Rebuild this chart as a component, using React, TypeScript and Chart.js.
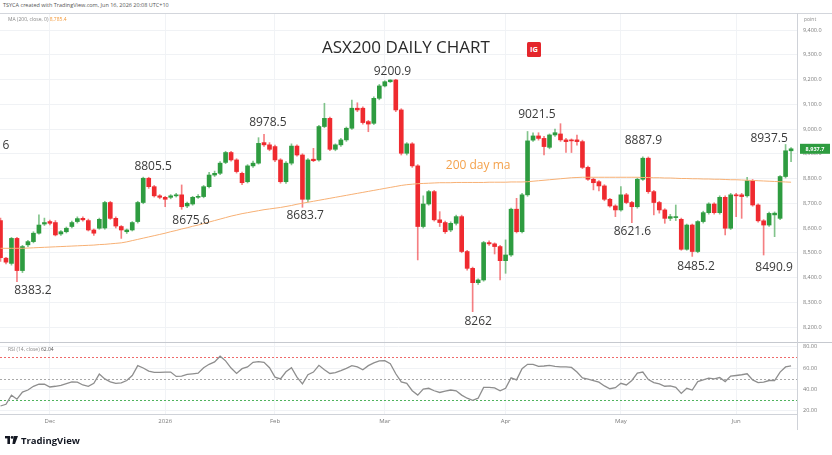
import React, { useEffect, useRef } from "react";
import { Chart, registerables } from "chart.js";
Chart.register(...registerables);

// ---------- data ----------
const opens = [
  8630, 8478, 8457, 8558, 8428, 8532, 8545, 8579, 8616, 8626,
  8622, 8576, 8585, 8606, 8626, 8639, 8630, 8592, 8599, 8600,
  8703, 8639, 8606, 8585, 8592, 8626, 8703, 8801, 8767, 8730,
  8724, 8724, 8730, 8734, 8689, 8697, 8724, 8727, 8767, 8814,
  8821, 8865, 8905, 8875, 8821, 8787, 8851, 8862, 8945, 8936,
  8929, 8875, 8787, 8862, 8931, 8895, 8716, 8878, 8875, 9010,
  9043, 8918, 8936, 8956, 9003, 9084, 9084, 9030, 9023, 9124,
  9174, 9191, 9198, 9077, 8902, 8940, 8851, 8606, 8697, 8747,
  8633, 8622, 8592, 8619, 8646, 8505, 8437, 8379, 8390, 8541,
  8536, 8525, 8468, 8491, 8676, 8585, 8734, 8955, 8972, 8962,
  8926, 8976, 8980, 8956, 8956, 8956, 8949, 8845, 8797, 8787,
  8770, 8716, 8689, 8673, 8734, 8703, 8686, 8797, 8882, 8747,
  8703, 8673, 8639, 8642, 8635, 8514, 8612, 8505, 8626, 8662,
  8697, 8662, 8724, 8599, 8734, 8734, 8730, 8791, 8693, 8629,
  8612, 8653, 8639, 8808, 8912,
];
const highs = [
  8640, 8482, 8562, 8562, 8530, 8550, 8585, 8653, 8640, 8632,
  8630, 8590, 8604, 8628, 8645, 8645, 8636, 8596, 8640, 8708,
  8708, 8645, 8610, 8596, 8626, 8708, 8805.5, 8805, 8772, 8735,
  8728, 8735, 8740, 8774, 8705, 8728, 8735, 8772, 8825, 8830,
  8868, 8910, 8910, 8880, 8826, 8856, 8870, 8965, 8978.5, 8945,
  8935, 8880, 8868, 8940, 8936, 8900, 8880, 8922, 9015, 9104,
  9048, 8940, 8962, 9008, 9117, 9106, 9090, 9035, 9130, 9180,
  9195, 9199, 9200.9, 9082, 8945, 8945, 8856, 8730, 8752, 8752,
  8666, 8628, 8625, 8652, 8652, 8510, 8442, 8395, 8546, 8548,
  8540, 8530, 8552, 8680, 8720, 8740, 8990, 8985, 8985, 8970,
  8980, 9000, 9021.5, 8962, 8960, 8975, 8955, 8850, 8802, 8792,
  8775, 8720, 8694, 8767, 8740, 8708, 8802, 8887.9, 8887, 8752,
  8708, 8678, 8655, 8693, 8640, 8616, 8616, 8630, 8668, 8702,
  8702, 8730, 8730, 8740, 8740, 8740, 8805, 8796, 8698, 8634,
  8664, 8665, 8812, 8937.5, 8925,
];
const lows = [
  8465, 8455, 8450, 8383.2, 8420, 8525, 8540, 8575, 8610, 8612,
  8568, 8570, 8580, 8600, 8620, 8628, 8588, 8570, 8595, 8595,
  8635, 8600, 8558, 8578, 8588, 8620, 8698, 8760, 8725, 8718,
  8686, 8718, 8725, 8675.6, 8682, 8692, 8720, 8722, 8762, 8808,
  8815, 8860, 8870, 8822, 8775, 8782, 8845, 8858, 8930, 8912,
  8868, 8781, 8780, 8855, 8890, 8683.7, 8705, 8868, 8870, 9005,
  8912, 8912, 8930, 8950, 8998, 9070, 9020, 8989, 9018, 9118,
  9170, 9188, 9070, 8895, 8895, 8845, 8471, 8600, 8692, 8628,
  8606, 8578, 8585, 8612, 8500, 8430, 8262, 8372, 8385, 8530,
  8495, 8390, 8417, 8485, 8580, 8580, 8728, 8950, 8955, 8895,
  8920, 8970, 8950, 8905, 8905, 8935, 8840, 8792, 8754, 8750,
  8710, 8684, 8646, 8668, 8698, 8621.6, 8680, 8792, 8740, 8653,
  8660, 8619, 8630, 8630, 8510, 8510, 8485.2, 8500, 8620, 8656,
  8656, 8656, 8572, 8594, 8646, 8639, 8725, 8688, 8624, 8490.9,
  8606, 8565, 8634, 8802, 8868,
];
const closes = [
  8480, 8462, 8558, 8428, 8525, 8545, 8579, 8612, 8622, 8619,
  8572, 8585, 8599, 8622, 8638, 8633, 8592, 8579, 8635, 8703,
  8639, 8608, 8592, 8592, 8622, 8703, 8801, 8767, 8730, 8724,
  8716, 8730, 8734, 8686, 8700, 8724, 8727, 8767, 8814, 8821,
  8862, 8905, 8875, 8828, 8783, 8851, 8862, 8942, 8936, 8918,
  8875, 8787, 8862, 8931, 8895, 8716, 8875, 8872, 9010, 9043,
  8918, 8936, 8956, 9003, 9084, 9077, 9026, 9020, 9124, 9174,
  9191, 9198, 9077, 8902, 8940, 8851, 8606, 8697, 8747, 8633,
  8622, 8585, 8619, 8646, 8505, 8437, 8379, 8390, 8541, 8536,
  8525, 8468, 8491, 8676, 8585, 8734, 8952, 8972, 8962, 8929,
  8976, 8985, 8956, 8949, 8952, 8949, 8845, 8797, 8783, 8770,
  8716, 8689, 8673, 8734, 8703, 8686, 8797, 8882, 8747, 8703,
  8673, 8639, 8646, 8646, 8514, 8612, 8505, 8626, 8662, 8697,
  8662, 8724, 8599, 8734, 8730, 8727, 8791, 8693, 8629, 8612,
  8659, 8660, 8808, 8912, 8920,
];
const ma200 = [
  8518, 8518, 8518, 8518, 8518, 8519, 8520, 8521, 8522, 8523,
  8524, 8525, 8526, 8527, 8528, 8529, 8530, 8531, 8533, 8534,
  8536, 8538, 8540, 8544, 8549, 8554, 8559, 8564, 8569, 8574,
  8579, 8585, 8590, 8596, 8601, 8607, 8612, 8618, 8624, 8630,
  8636, 8642, 8648, 8653, 8658, 8662, 8666, 8670, 8674, 8677,
  8680, 8683, 8687, 8691, 8696, 8700, 8704, 8708, 8712, 8716,
  8720, 8724, 8728, 8732, 8736, 8740, 8744, 8748, 8752, 8756,
  8760, 8764, 8768, 8772, 8775, 8777, 8779, 8780, 8781, 8782,
  8783, 8783, 8783, 8784, 8784, 8784, 8784, 8784, 8784, 8785,
  8785, 8785, 8785, 8786, 8786, 8786, 8787, 8789, 8791, 8793,
  8795, 8797, 8799, 8801, 8803, 8804, 8805, 8805, 8805, 8805,
  8805, 8805, 8805, 8805, 8805, 8805, 8805, 8804, 8804, 8803,
  8803, 8802, 8802, 8801, 8800, 8800, 8799, 8799, 8798, 8798,
  8797, 8797, 8796, 8795, 8795, 8794, 8793, 8792, 8791, 8790,
  8789, 8788, 8787, 8786, 8785,
];
const rsi14 = [
  24.4, 26.0, 34.6, 30.8, 37.5, 39.4, 42.9, 44.8, 44.8, 42.2,
  42.9, 43.8, 45.4, 47.0, 46.7, 44.1, 42.9, 45.7, 54.3, 49.8,
  47.0, 45.7, 46.0, 48.3, 53.0, 62.2, 60.0, 57.1, 55.9, 55.9,
  56.2, 56.2, 52.1, 52.4, 54.0, 54.6, 55.2, 60.3, 63.5, 65.7,
  71.1, 66.7, 60.0, 54.9, 59.4, 61.0, 65.4, 66.0, 65.4, 60.3,
  51.4, 49.8, 56.5, 60.3, 51.4, 45.1, 53.7, 56.2, 62.5, 58.4,
  54.9, 55.6, 57.5, 59.7, 62.2, 61.0, 58.4, 62.2, 64.8, 66.7,
  67.0, 64.1, 54.6, 47.0, 45.7, 38.7, 34.6, 40.3, 41.0, 38.7,
  37.1, 38.4, 39.4, 38.7, 34.6, 31.7, 29.8, 31.7, 41.9, 41.9,
  41.3, 38.7, 41.0, 50.8, 48.9, 59.4, 63.5, 63.5, 61.6, 61.9,
  62.5, 61.6, 61.0, 61.0, 60.6, 56.2, 50.8, 49.5, 48.3, 46.7,
  43.2, 40.6, 41.6, 45.7, 44.1, 48.3, 55.2, 56.2, 49.2, 46.3,
  45.1, 42.9, 43.2, 41.9, 36.2, 41.0, 39.4, 47.3, 48.9, 50.5,
  49.8, 51.1, 47.3, 52.4, 53.0, 53.7, 54.6, 48.9, 46.3, 46.7,
  48.3, 48.3, 56.2, 61.0, 62.0,
];
const monthIdx = [9, 30, 50, 70, 92, 113, 134];
const monthLabels = ["Dec", "2026", "Feb", "Mar", "Apr", "May", "Jun"];
const rsiLevels = [70, 50, 30];
const lastPriceLabel = "8,937.7";
const noteTexts = ["6", "8383.2", "8805.5", "8675.6", "8978.5", "8683.7", "9200.9", "200 day ma", "8262", "9021.5", "8621.6", "8887.9", "8485.2", "8937.5", "8490.9"];
const noteIdx = [1.0, 5.9, 27.8, 34.7, 48.7, 55.5, 71.4, 87.0, 87.0, 97.7, 115.1, 117.1, 126.7, 140.0, 140.9];
const notePrice = [8935, 8349, 8850, 8629, 9024, 8652, 9231, 8854, 8220, 9060, 8585, 8955, 8443, 8962, 8441];

// ---------- styles ----------
const GREEN = "#2e9c40";
const RED = "#ef2a2f";
const levelColors = ["#f06a6a", "#a9a9a9", "#4fb35c"];
const FONT = '"Open Sans", "Noto Sans", sans-serif';

const overlay = {
  id: "overlay",
  beforeDatasetsDraw(chart: any) {
    const { ctx, chartArea, scales } = chart;
    const y2 = scales.y2;
    ctx.save();
    ctx.lineWidth = 1;
    ctx.setLineDash([2, 2]);
    rsiLevels.forEach((lv, k) => {
      const py = Math.round(y2.getPixelForValue(lv)) + 0.5;
      ctx.strokeStyle = levelColors[k];
      ctx.beginPath();
      ctx.moveTo(chartArea.left, py);
      ctx.lineTo(chartArea.right, py);
      ctx.stroke();
    });
    ctx.restore();
  },
  afterDatasetsDraw(chart: any) {
    const { ctx, scales } = chart;
    const xs = scales.x;
    const ys = scales.y;
    ctx.save();
    ctx.textAlign = "center";
    ctx.textBaseline = "middle";
    noteTexts.forEach((t, k) => {
      const isMa = t === "200 day ma";
      ctx.font = `12px ${FONT}`;
      ctx.fillStyle = isMa ? "#f4a24c" : "#3a3a3a";
      ctx.fillText(t, xs.getPixelForValue(noteIdx[k]), ys.getPixelForValue(notePrice[k]));
    });
    ctx.restore();
  },
  afterDraw(chart: any) {
    const { ctx, chartArea, scales, width, height } = chart;
    ctx.save();
    ctx.strokeStyle = "#d3d6dc";
    ctx.lineWidth = 1;
    ctx.beginPath();
    ctx.moveTo(0, chartArea.top + 0.5);
    ctx.lineTo(width, chartArea.top + 0.5);
    ctx.stroke();
    const sy = Math.round(scales.y2.top) + 0.5;
    ctx.strokeStyle = "#c6c9cf";
    ctx.beginPath();
    ctx.moveTo(0, sy);
    ctx.lineTo(width, sy);
    ctx.stroke();
    const rx = Math.round(chartArea.right) + 0.5;
    ctx.strokeStyle = "#cfd2d8";
    ctx.beginPath();
    ctx.moveTo(rx, chartArea.top);
    ctx.lineTo(rx, height);
    ctx.stroke();
    const py = scales.y.getPixelForValue(closes[closes.length - 1]);
    ctx.fillStyle = GREEN;
    ctx.fillRect(chartArea.right + 3, py - 5, 30, 10);
    ctx.fillStyle = "#ffffff";
    ctx.font = `bold 5.5px ${FONT}`;
    ctx.textAlign = "center";
    ctx.textBaseline = "middle";
    ctx.fillText(lastPriceLabel, chartArea.right + 18, py + 0.5);
    ctx.restore();
  },
};

export default function App() {
  const ref = useRef<HTMLCanvasElement>(null);
  useEffect(() => {
    const up = closes.map((c, i) => c >= opens[i]);
    const chart = new Chart(ref.current as HTMLCanvasElement, {
      type: "bar",
      data: {
        datasets: [
          {
            type: "bar",
            label: "wick",
            data: lows.map((l, i) => ({ x: i, y: [l, highs[i]] })) as any,
            backgroundColor: up.map((u) => (u ? "rgba(46,156,64,0.6)" : "rgba(239,42,47,0.6)")),
            barThickness: 1,
            grouped: false,
            minBarLength: 1,
            order: 3,
            yAxisID: "y",
          } as any,
          {
            type: "bar",
            label: "body",
            data: opens.map((o, i) => ({ x: i, y: [o, closes[i]] })) as any,
            backgroundColor: up.map((u) => (u ? GREEN : RED)),
            barThickness: 4,
            grouped: false,
            minBarLength: 1,
            order: 2,
            yAxisID: "y",
          } as any,
          {
            type: "line",
            label: "MA (200)",
            data: ma200.map((v, i) => ({ x: i, y: v })) as any,
            borderColor: "#f7b074",
            borderWidth: 1,
            pointRadius: 0,
            order: 1,
            yAxisID: "y",
          } as any,
          {
            type: "line",
            label: "RSI (14)",
            data: rsi14.map((v, i) => ({ x: i, y: v })) as any,
            borderColor: "#8e8e8e",
            borderWidth: 1.3,
            pointRadius: 0,
            order: 1,
            yAxisID: "y2",
          } as any,
        ],
      },
      options: {
        responsive: false,
        animation: false,
        events: [],
        layout: { padding: 0 },
        plugins: { legend: { display: false }, tooltip: { enabled: false } },
        scales: {
          x: {
            type: "linear",
            min: -0.09,
            max: 145.08,
            offset: false,
            grid: { color: "#f1f3f6", offset: false, drawTicks: false },
            border: { display: true, color: "#cfd2d8" },
            ticks: {
              font: { size: 6, family: FONT },
              color: "#7a7a7a",
              padding: 4,
              maxRotation: 0,
              autoSkip: false,
              callback: (v: any) => {
                const k = monthIdx.indexOf(Number(v));
                return k >= 0 ? monthLabels[k] : "";
              },
            },
            afterBuildTicks: (s: any) => {
              s.ticks = monthIdx.map((v) => ({ value: v }));
            },
            afterFit: (s: any) => {
              s.height = 16;
              s.paddingLeft = 0;
              s.paddingRight = 0;
            },
          },
          y: {
            type: "linear",
            position: "right",
            stack: "panes",
            stackWeight: 329,
            min: 8139.4,
            max: 9468.7,
            grid: { color: "#f0f2f5", drawTicks: false },
            border: { display: false },
            ticks: {
              stepSize: 100,
              includeBounds: false,
              font: { size: 5.5, family: FONT },
              color: "#7a7a7a",
              padding: 6,
              callback: (v: any) =>
                Number(v).toLocaleString("en-US", { minimumFractionDigits: 1, maximumFractionDigits: 1 }),
            },
            afterFit: (s: any) => {
              s.width = 35;
              s.paddingTop = 0;
              s.paddingBottom = 0;
            },
          },
          y2: {
            type: "linear",
            position: "right",
            stack: "panes",
            stackWeight: 72,
            min: 16.9,
            max: 84.4,
            grid: { color: "#f0f2f5", drawTicks: false },
            border: { display: false },
            ticks: {
              stepSize: 20,
              includeBounds: false,
              font: { size: 5.5, family: FONT },
              color: "#7a7a7a",
              padding: 6,
              callback: (v: any) => Number(v).toFixed(2),
            },
            afterFit: (s: any) => {
              s.width = 35;
              s.paddingTop = 0;
              s.paddingBottom = 0;
            },
          },
        },
      } as any,
      plugins: [overlay],
    });
    return () => chart.destroy();
  }, []);

  return (
    <div
      style={{
        position: "absolute",
        left: 0,
        top: 0,
        width: 832,
        height: 455,
        background: "#ffffff",
        overflow: "hidden",
        fontFamily: FONT,
      }}
    >
      <div style={{ position: "absolute", left: 3, top: 2, fontSize: 5.5, color: "#555", whiteSpace: "nowrap", lineHeight: "7px" }}>
        TSYCA created with TradingView.com, Jun 16, 2026 20:08 UTC+10
      </div>
      <div style={{ position: "absolute", left: 0, top: 13, width: 832, height: 417 }}>
        <canvas ref={ref} width={832} height={417} style={{ display: "block" }} />
      </div>
      <div style={{ position: "absolute", left: 8, top: 16, fontSize: 5, color: "#888", whiteSpace: "nowrap", lineHeight: "7px" }}>
        MA (200, close, 0) <span style={{ color: "#f39a3c" }}>8,785.4</span>
      </div>
      <div style={{ position: "absolute", left: 804, top: 16, fontSize: 5, color: "#888", lineHeight: "7px" }}>point</div>
      <div style={{ position: "absolute", left: 322, top: 38, fontSize: 17, fontWeight: 500, color: "#2a2a2a", lineHeight: "18px", whiteSpace: "nowrap" }}>
        ASX200 DAILY CHART
      </div>
      <div
        style={{
          position: "absolute",
          left: 527,
          top: 42,
          width: 14,
          height: 15,
          background: "#e4262c",
          borderRadius: 1.5,
          color: "#fff",
          fontSize: 7.5,
          fontWeight: 700,
          lineHeight: "15px",
          textAlign: "center",
        }}
      >
        IG
      </div>
      <div style={{ position: "absolute", left: 8, top: 346, fontSize: 5, color: "#888", whiteSpace: "nowrap", lineHeight: "7px" }}>
        RSI (14, close) <span style={{ color: "#555" }}>62.04</span>
      </div>
      <div style={{ position: "absolute", left: 5, top: 434, height: 12, display: "flex", alignItems: "center", gap: 3 }}>
        <svg width="13" height="8" viewBox="0 0 13 8">
          <rect x="0" y="0" width="5" height="2.4" fill="#131722" />
          <rect x="2.4" y="0" width="2.6" height="8" fill="#131722" />
          <circle cx="7" cy="1.4" r="1.3" fill="#131722" />
          <polygon points="8.6,0 13,0 10,8 7.4,8" fill="#131722" />
        </svg>
        <span style={{ fontSize: 9.5, fontWeight: 700, color: "#131722" }}>TradingView</span>
      </div>
    </div>
  );
}
